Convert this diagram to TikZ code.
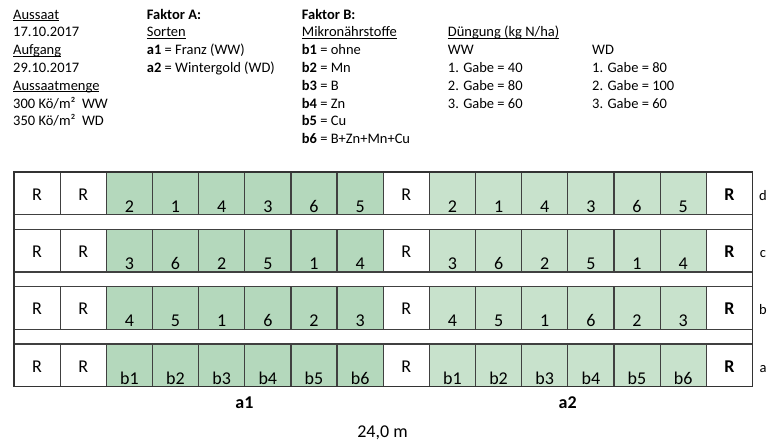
\documentclass[tikz,border=0pt]{standalone}
\usepackage{fontspec}
\setmainfont{Carlito}
\usepackage{tikz}

\newcommand{\unter}[1]{\underline{\smash{#1}}}
\definecolor{gruenA}{RGB}{180,216,188}
\definecolor{gruenB}{RGB}{200,226,204}

\tikzset{
  kopf/.style={anchor=base west, inner sep=0pt, font=\fontsize{14.5}{17.9}\selectfont},
  parz/.style={draw=black!75, line width=1.2pt, inner sep=0pt, outer sep=0pt,
    minimum width=46.15pt, minimum height=42.7pt, text height=40.2pt, text depth=2.5pt,
    font=\fontsize{18}{20}\selectfont},
  rand/.style={parz, fill=white, text height=28pt, text depth=14.7pt},
  parzA/.style={parz, fill=gruenA},
  parzB/.style={parz, fill=gruenB},
  gross/.style={anchor=base, inner sep=0pt, font=\fontsize{18}{20}\selectfont},
  wdh/.style={anchor=base, inner sep=0pt, font=\fontsize{14.5}{17.9}\selectfont}
}

\begin{document}
\begin{tikzpicture}[x=1pt, y=-1pt]
    \useasboundingbox (0,0) rectangle (769,442);
    % Kopfzeilen
    \node[kopf] (k11) at (13, 19) {\unter{Aussaat}};
    \node[kopf] (k12) at (13, 36.8) {17.10.2017};
    \node[kopf] (k13) at (13, 54.6) {\unter{Aufgang}};
    \node[kopf] (k14) at (13, 72.4) {29.10.2017};
    \node[kopf] (k15) at (13, 90.2) {\unter{Aussaatmenge}};
    \node[kopf] (k16) at (13, 108) {300 Kö/m²\ \ WW};
    \node[kopf] (k17) at (13, 125.8) {350 Kö/m²\ \ WD};
    \node[kopf] (k21) at (146.7, 19) {\textbf{Faktor A:}};
    \node[kopf] (k22) at (146.7, 36.8) {\unter{Sorten}};
    \node[kopf] (k23) at (146.7, 54.6) {\textbf{a1} = Franz (WW)};
    \node[kopf] (k24) at (146.7, 72.4) {\textbf{a2} = Wintergold (WD)};
    \node[kopf] (k31) at (301.7, 19) {\textbf{Faktor B:}};
    \node[kopf] (k32) at (301.7, 36.8) {\unter{Mikronährstoffe}};
    \node[kopf] (k33) at (301.7, 54.6) {\textbf{b1} = ohne};
    \node[kopf] (k34) at (301.7, 72.4) {\textbf{b2} = Mn};
    \node[kopf] (k35) at (301.7, 90.2) {\textbf{b3} = B};
    \node[kopf] (k36) at (301.7, 108) {\textbf{b4} = Zn};
    \node[kopf] (k37) at (301.7, 125.8) {\textbf{b5} = Cu};
    \node[kopf] (k38) at (301.7, 143.6) {\textbf{b6} = B+Zn+Mn+Cu};
    \node[kopf] (k42) at (447.7, 36.8) {\unter{Düngung (kg N/ha)}};
    \node[kopf] (k43) at (447.7, 54.6) {WW};
    \node[kopf] (k44) at (447.7, 72.4) {1. Gabe = 40};
    \node[kopf] (k45) at (447.7, 90.2) {2. Gabe = 80};
    \node[kopf] (k46) at (447.7, 108) {3. Gabe = 60};
    \node[kopf] (k53) at (592, 54.6) {WD};
    \node[kopf] (k54) at (592, 72.4) {1. Gabe = 80};
    \node[kopf] (k55) at (592, 90.2) {2. Gabe = 100};
    \node[kopf] (k56) at (592, 108) {3. Gabe = 60};
    % Wiederholung d
    \node[rand] (d1) at (37.08, 193.35) {R};
    \node[rand] (d2) at (83.23, 193.35) {R};
    \node[parzA] (d3) at (129.38, 193.35) {2};
    \node[parzA] (d4) at (175.53, 193.35) {1};
    \node[parzA] (d5) at (221.68, 193.35) {4};
    \node[parzA] (d6) at (267.83, 193.35) {3};
    \node[parzA] (d7) at (313.98, 193.35) {6};
    \node[parzA] (d8) at (360.13, 193.35) {5};
    \node[rand] (d9) at (406.28, 193.35) {R};
    \node[parzB] (d10) at (452.43, 193.35) {2};
    \node[parzB] (d11) at (498.58, 193.35) {1};
    \node[parzB] (d12) at (544.73, 193.35) {4};
    \node[parzB] (d13) at (590.88, 193.35) {3};
    \node[parzB] (d14) at (637.03, 193.35) {6};
    \node[parzB] (d15) at (683.18, 193.35) {5};
    \node[rand] (d16) at (729.33, 193.35) {\textbf{R}};
    % Wiederholung c
    \node[rand] (c1) at (37.08, 250.67) {R};
    \node[rand] (c2) at (83.23, 250.67) {R};
    \node[parzA] (c3) at (129.38, 250.67) {3};
    \node[parzA] (c4) at (175.53, 250.67) {6};
    \node[parzA] (c5) at (221.68, 250.67) {2};
    \node[parzA] (c6) at (267.83, 250.67) {5};
    \node[parzA] (c7) at (313.98, 250.67) {1};
    \node[parzA] (c8) at (360.13, 250.67) {4};
    \node[rand] (c9) at (406.28, 250.67) {R};
    \node[parzB] (c10) at (452.43, 250.67) {3};
    \node[parzB] (c11) at (498.58, 250.67) {6};
    \node[parzB] (c12) at (544.73, 250.67) {2};
    \node[parzB] (c13) at (590.88, 250.67) {5};
    \node[parzB] (c14) at (637.03, 250.67) {1};
    \node[parzB] (c15) at (683.18, 250.67) {4};
    \node[rand] (c16) at (729.33, 250.67) {\textbf{R}};
    % Wiederholung b
    \node[rand] (b1) at (37.08, 308) {R};
    \node[rand] (b2) at (83.23, 308) {R};
    \node[parzA] (b3) at (129.38, 308) {4};
    \node[parzA] (b4) at (175.53, 308) {5};
    \node[parzA] (b5) at (221.68, 308) {1};
    \node[parzA] (b6) at (267.83, 308) {6};
    \node[parzA] (b7) at (313.98, 308) {2};
    \node[parzA] (b8) at (360.13, 308) {3};
    \node[rand] (b9) at (406.28, 308) {R};
    \node[parzB] (b10) at (452.43, 308) {4};
    \node[parzB] (b11) at (498.58, 308) {5};
    \node[parzB] (b12) at (544.73, 308) {1};
    \node[parzB] (b13) at (590.88, 308) {6};
    \node[parzB] (b14) at (637.03, 308) {2};
    \node[parzB] (b15) at (683.18, 308) {3};
    \node[rand] (b16) at (729.33, 308) {\textbf{R}};
    % Wiederholung a
    \node[rand] (a1) at (37.08, 365.35) {R};
    \node[rand] (a2) at (83.23, 365.35) {R};
    \node[parzA] (a3) at (129.38, 365.35) {b1};
    \node[parzA] (a4) at (175.53, 365.35) {b2};
    \node[parzA] (a5) at (221.68, 365.35) {b3};
    \node[parzA] (a6) at (267.83, 365.35) {b4};
    \node[parzA] (a7) at (313.98, 365.35) {b5};
    \node[parzA] (a8) at (360.13, 365.35) {b6};
    \node[rand] (a9) at (406.28, 365.35) {R};
    \node[parzB] (a10) at (452.43, 365.35) {b1};
    \node[parzB] (a11) at (498.58, 365.35) {b2};
    \node[parzB] (a12) at (544.73, 365.35) {b3};
    \node[parzB] (a13) at (590.88, 365.35) {b4};
    \node[parzB] (a14) at (637.03, 365.35) {b5};
    \node[parzB] (a15) at (683.18, 365.35) {b6};
    \node[rand] (a16) at (729.33, 365.35) {\textbf{R}};
    \draw[line width=1.2pt, black!80] (d1.north west) rectangle (a16.south east);
    % Beschriftung
    \node[wdh] (wd) at (763, 200) {d};
    \node[wdh] (wc) at (763, 257.3) {c};
    \node[wdh] (wb) at (763, 314.7) {b};
    \node[wdh] (wa) at (763, 372) {a};
    \node[gross] (sa1) at (244.5, 408) {\textbf{a1}};
    \node[gross] (sa2) at (567.7, 408) {\textbf{a2}};
    \node[gross] (laenge) at (382.5, 437.3) {24,0 m};
  \end{tikzpicture}
\end{document}
